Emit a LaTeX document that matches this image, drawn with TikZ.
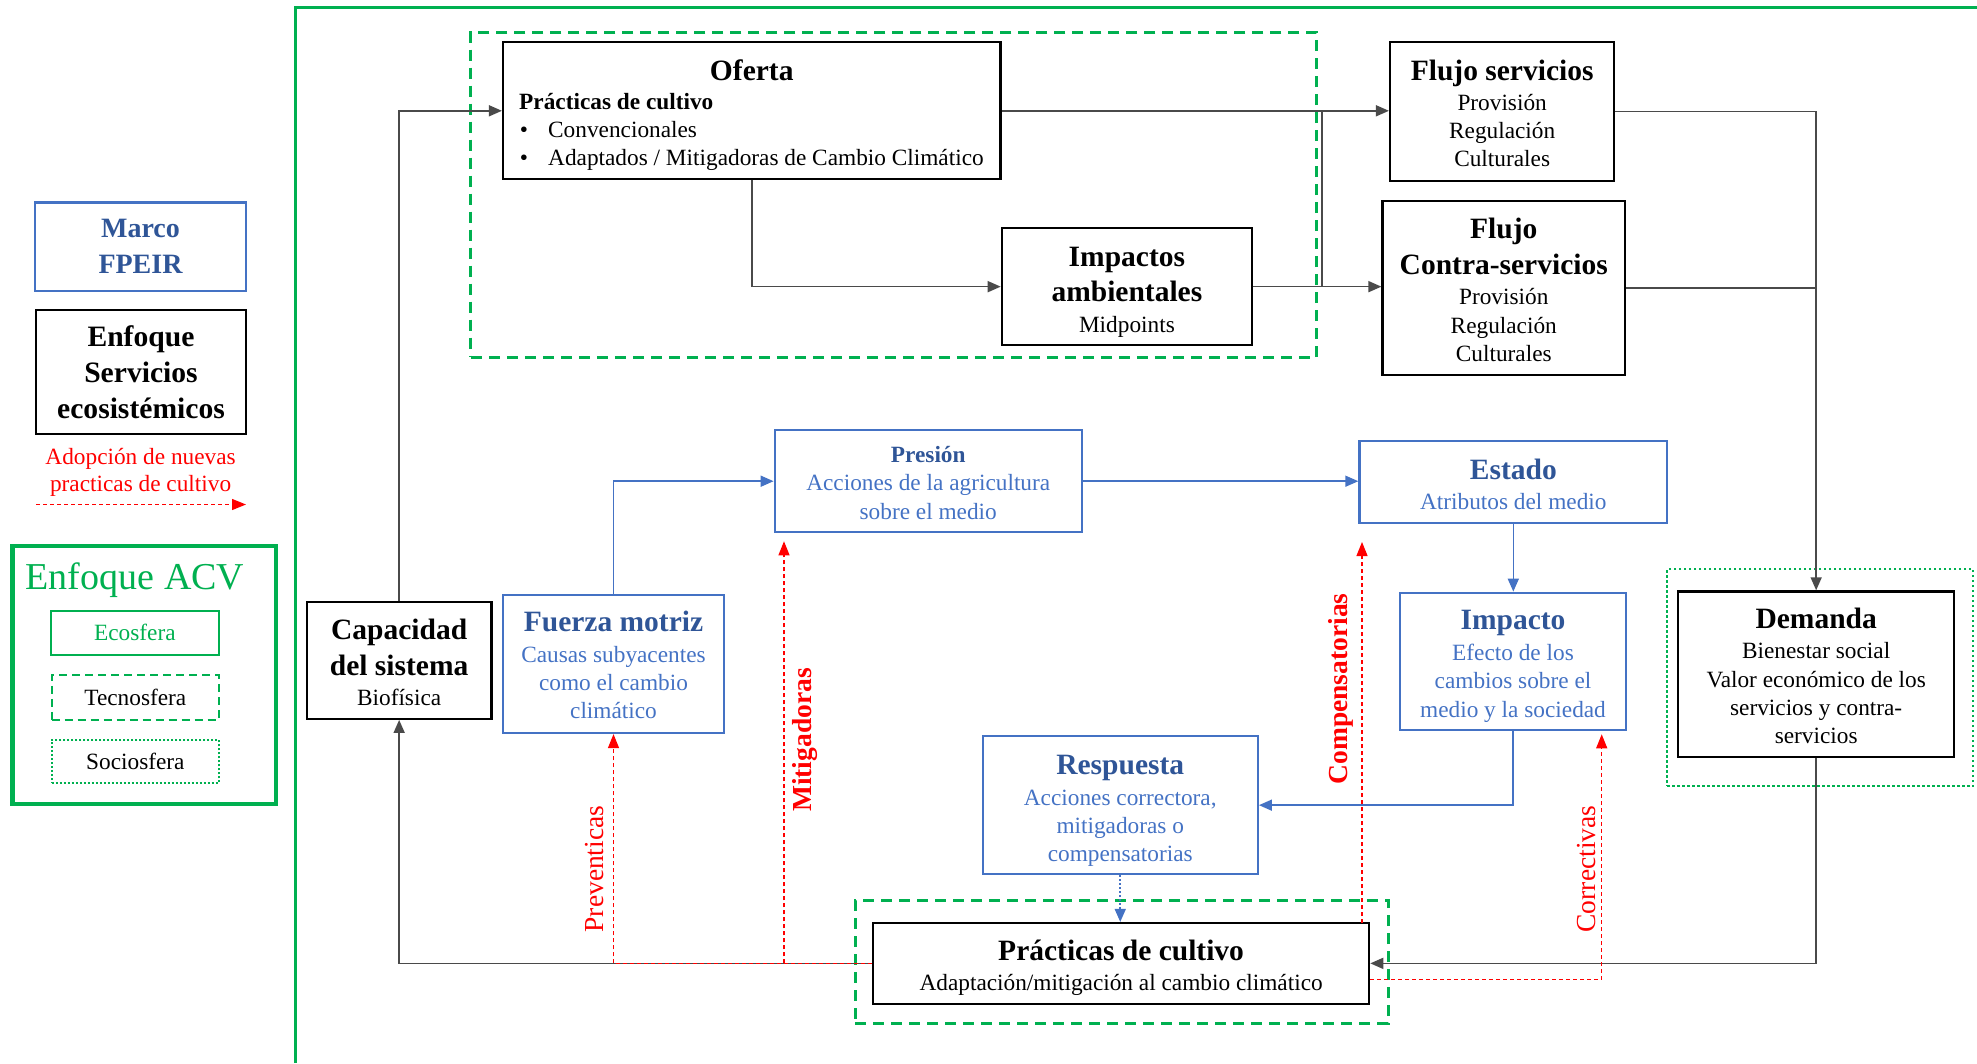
\documentclass[tikz,border=0pt]{standalone}
\usepackage{fontspec}
\setmainfont{Liberation Serif}
\usetikzlibrary{arrows.meta}
\definecolor{gr}{HTML}{00B050}
\definecolor{bbox}{HTML}{4472C4}
\definecolor{btitle}{HTML}{2F5597}
\definecolor{btext}{HTML}{4472C4}
\definecolor{conn}{HTML}{4A4A4A}
\newcommand\fb{\fontsize{23.3}{28.2}\selectfont}
\newcommand\ft{\fontsize{29.5}{35.5}\selectfont\bfseries}
\newcommand\ts[1]{\rule{0pt}{#1pt}}
\tikzset{
  kbox/.style={draw=black, line width=2.2pt, inner sep=0pt, align=center, font=\fb},
  bbx/.style={draw=bbox, line width=2.2pt, inner sep=0pt, align=center, font=\fb, text=btext},
  tecbox/.style={draw=gr, line width=3pt, dash pattern=on 11pt off 7pt, inner sep=0pt},
  socbox/.style={draw=gr, line width=2.5pt, dash pattern=on 2.5pt off 2.5pt, inner sep=0pt},
  conn/.style={draw=conn, line width=1.6pt},
  karr/.style={-{Triangle[length=13pt,width=11pt]}},
  bconn/.style={draw=bbox, line width=1.6pt, -{Triangle[length=13pt,width=11pt]}},
  reddash/.style={draw=red, line width=1.2pt, dash pattern=on 4pt off 3pt},
  rarr/.style={-{Triangle[length=14pt,width=11pt]}},
  rlab/.style={rotate=90, text=red, font=\fontsize{27.5}{30}\selectfont, inner sep=0pt}
}
\begin{document}
\begin{tikzpicture}[x=1pt,y=-1pt]
\useasboundingbox (0,0) rectangle (1977,1063);
% outer frame
\draw[gr, line width=3pt] (295,1063) -- (295,7.3) -- (1977,7.3);

% legend
\node[bbx, minimum width=211, minimum height=88.6, text=btitle, font=\fontsize{28}{36}\selectfont\bfseries] (marco) at (140.5,246.7) {Marco\\FPEIR};
\node[kbox, minimum width=210, minimum height=124, font=\fontsize{29.6}{35.8}\selectfont\bfseries] (enfoque) at (141,372) {Enfoque\\Servicios\\ecosistémicos};
\node[text=red, align=center, font=\fontsize{23.3}{27.5}\selectfont, inner sep=0pt] (adop) at (140.6,472.5) {Adopción de nuevas\\practicas de cultivo};
\coordinate (lega) at (36,504.5);
\coordinate (legb) at (246,504.5);
\draw[reddash, rarr] (lega) -- (legb);
\node[draw=gr, line width=4.5pt, minimum width=263.3, minimum height=258, inner sep=0pt] (acv) at (144.35,675) {};
\node[text=gr, font=\fontsize{38}{40}\selectfont, inner sep=0pt] (acvt) at (135,580) {Enfoque ACV};
\node[draw=gr, line width=2pt, minimum width=168.3, minimum height=44.1, inner sep=0pt, text=gr, font=\fb] (eco) at (134.85,632.65) {Ecosfera};
\node[tecbox, line width=2pt, dash pattern=on 8pt off 5pt, minimum width=167.3, minimum height=44.6, font=\fb] (tec) at (135.35,697.3) {Tecnosfera};
\node[socbox, line width=2pt, dash pattern=on 2pt off 2pt, minimum width=167.3, minimum height=43, font=\fb] (soc) at (135.35,761.5) {Sociosfera};

% group frames
\node[tecbox, minimum width=845.8, minimum height=325] (tecframe) at (893.7,194.8) {};
\node[tecbox, minimum width=532.7, minimum height=122.8] (pracframe) at (1121.65,961.9) {};
\node[socbox, minimum width=306, minimum height=217] (demframe) at (1820,677.5) {};

% black boxes
\node[kbox, minimum width=497.5, minimum height=137] (oferta) at (751.75,110.8) {};
\node[font=\ft, anchor=base, inner sep=0pt] (oftit) at (751.75,80) {Oferta};
\node[font=\fb\bfseries, anchor=base west, inner sep=0pt] (ofsub) at (519,109.4) {Prácticas de cultivo};
\node[font=\fb, anchor=base, inner sep=0pt] (ofb1) at (524,137.7) {•};
\node[font=\fb, anchor=base west, inner sep=0pt] (ofl1) at (548,137.7) {Convencionales};
\node[font=\fb, anchor=base, inner sep=0pt] (ofb2) at (524,165) {•};
\node[font=\fb, anchor=base west, inner sep=0pt] (ofl2) at (548,165) {Adaptados / Mitigadoras de Cambio Climático};

\node[kbox, minimum width=250.2, minimum height=116.7] (impactos) at (1126.9,286.65) {{\ft\ts{30.3}Impactos}\\[7.4pt]{\ft ambientales}\\[2.5pt]Midpoints};
\node[kbox, minimum width=224.3, minimum height=138.4] (flujo) at (1502.15,111.5) {{\ft\ts{24}Flujo servicios}\\[2pt]Provisión\\Regulación\\Culturales};
\node[kbox, minimum width=242.5, minimum height=174.3] (contra) at (1503.75,287.85) {{\ft\ts{24.3}Flujo}\\[7.4pt]{\ft Contra-servicios}\\[2.5pt]Provisión\\Regulación\\Culturales};
\node[kbox, minimum width=184.7, minimum height=117.2] (capacidad) at (399.15,660.2) {{\ft\ts{25.3}Capacidad}\\[7.4pt]{\ft del sistema}\\[2.5pt]Biofísica};
\node[kbox, minimum width=496.2, minimum height=80.7] (practicas) at (1121.1,963.35) {{\ft\ts{29}Prácticas de cultivo}\\[2pt]Adaptación/mitigación al cambio climático};
\node[kbox, minimum width=275.7, minimum height=165.3] (demanda) at (1816.15,674.05) {{\ft\ts{23.8}Demanda}\\[2.5pt]Bienestar social\\Valor económico de los\\servicios y contra-\\servicios};

% blue boxes
\node[bbx, minimum width=220.4, minimum height=138.3] (fuerza) at (613.5,663.85) {{\ft\color{btitle}\ts{22.3}Fuerza motriz}\\[2.5pt]Causas subyacentes\\como el cambio\\climático};
\node[bbx, minimum width=307.1, minimum height=102] (presion) at (928.25,481.2) {{\bfseries\color{btitle}\ts{19.8}Presión}\\Acciones de la agricultura\\sobre el medio};
\node[bbx, minimum width=307.8, minimum height=81.7] (estado) at (1513.3,482.05) {{\ft\color{btitle}\ts{25.3}Estado}\\[2.5pt]Atributos del medio};
\node[bbx, minimum width=226, minimum height=137.5] (impacto) at (1513,661.45) {{\ft\color{btitle}\ts{29.1}Impacto}\\[2.5pt]Efecto de los\\cambios sobre el\\medio y la sociedad};
\node[bbx, minimum width=275.1, minimum height=137.7] (respuesta) at (1120.25,805.15) {{\ft\color{btitle}\ts{30.5}Respuesta}\\[2.5pt]Acciones correctora,\\mitigadoras o\\compensatorias};

% black connectors
\draw[conn, karr] (capacidad.north) |- (oferta.west);
\draw[conn, karr] (oferta.south) |- (impactos.west);
\draw[conn, karr] (oferta.east) -- (flujo.west |- oferta.east);
\draw[conn, karr] (impactos.east) -- (contra.west |- impactos.east);
\coordinate (j1) at (1321.7,110.8);
\draw[conn] (j1) -- (j1 |- impactos.east);
\draw[conn, karr] (flujo.east) -| (demanda.north);
\draw[conn] (contra.east) -- (demanda.north |- contra.east);
\draw[conn, karr] (demanda.south) |- (practicas.east);
\draw[conn, karr] (practicas.west) -| (capacidad.south);

% blue connectors
\draw[bconn] (fuerza.north) |- (presion.west);
\draw[bconn] (presion.east) -- (estado.west |- presion.east);
\draw[bconn] (estado.south) -- (estado.south |- impacto.north);
\draw[bconn] (impacto.south) |- (respuesta.east);
\draw[bconn, dash pattern=on 2pt off 2pt] (respuesta.south) -- (respuesta.south |- practicas.north);

% red dashed connectors
\draw[reddash] (practicas.west) -- (fuerza.south |- practicas.west);
\draw[reddash, rarr] (fuerza.south |- practicas.west) -- (fuerza.south);
\coordinate (mitb) at (784,963.35);
\draw[reddash, rarr, shorten >=8pt] (mitb) -- (mitb |- presion.south);
\coordinate (compb) at (1362,923);
\draw[reddash, rarr, shorten >=18pt] (compb) -- (compb |- estado.south);
\coordinate (corr) at (1601.7,979.3);
\draw[reddash, rarr, shorten >=3pt] (practicas.east |- corr) -- (corr) -- (corr |- impacto.south);

% red labels
\node[rlab] (lprev) at (594.6,869) {Preventicas};
\node[rlab, font=\fontsize{27.5}{30}\selectfont\bfseries] (lmit) at (805,740) {Mitigadoras};
\node[rlab, font=\fontsize{27.5}{30}\selectfont\bfseries] (lcomp) at (1341,689) {Compensatorias};
\node[rlab] (lcorr) at (1586.6,869) {Correctivas};
\end{tikzpicture}
\end{document}
